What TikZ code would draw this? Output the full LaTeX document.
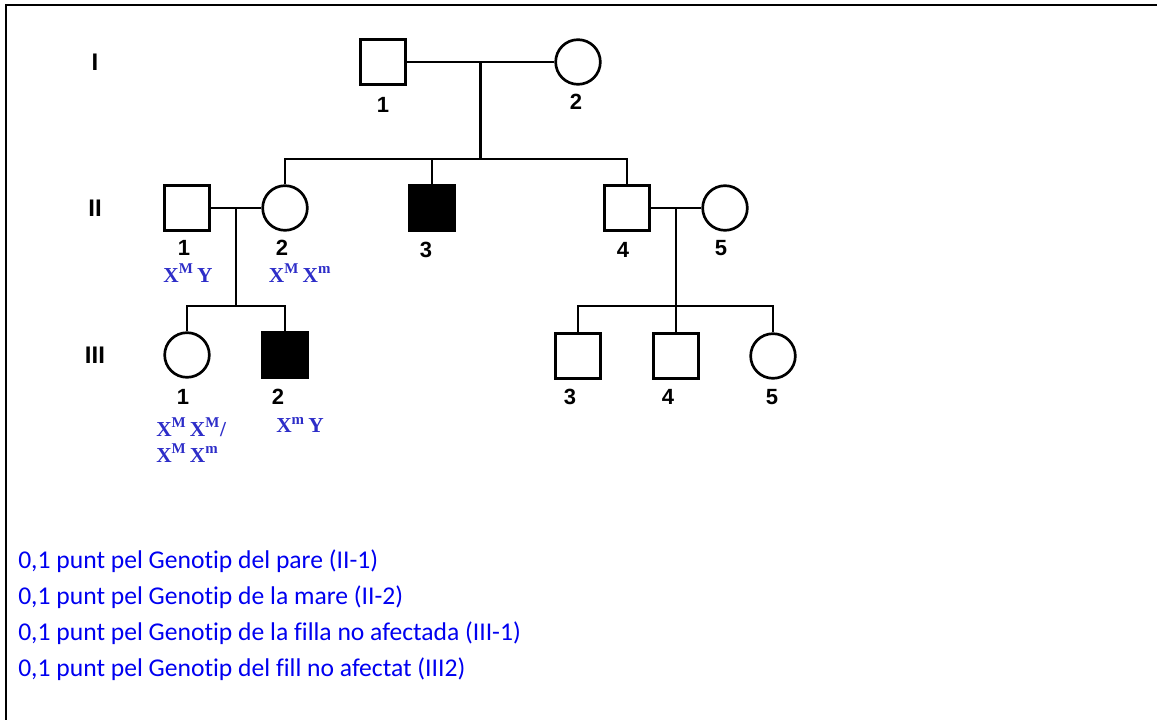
\documentclass[tikz,border=0pt]{standalone}
\usepackage{fontspec}
\usepackage{xcolor}
\usepackage{tikz}
\usetikzlibrary{positioning, calc}
\newfontfamily\calibfont[Ligatures={NoCommon}]{Carlito}
\newfontfamily\arialfont{Liberation Sans}
\newfontfamily\timesfont{Liberation Serif}
\definecolor{genoblue}{RGB}{45,45,200}
\definecolor{textblue}{RGB}{0,0,240}
\tikzset{
  male/.style={draw, rectangle, line width=2pt, minimum size=33.5pt, inner sep=0pt},
  female/.style={draw, circle, line width=2pt, minimum size=33.5pt, inner sep=0pt},
  affected/.style={male, fill=black},
  link/.style={line width=2pt},
  num/.style={inner sep=0pt, font=\arialfont\bfseries\fontsize{16.5}{18}\selectfont},
  gen/.style={inner sep=0pt, font=\arialfont\bfseries\fontsize{18}{20}\selectfont},
  geno/.style={inner sep=0pt, text=genoblue, font=\timesfont\bfseries\fontsize{16}{19.5}\selectfont},
  note/.style={inner sep=0pt, anchor=base west, text=textblue, font=\calibfont\fontsize{19.2}{24}\selectfont}
}
\begin{document}
\begin{tikzpicture}[x=0.75pt, y=-0.75pt]
    \useasboundingbox (0,0) rectangle (1157,720);
    % marc
    \draw[line width=2pt] (1160,5) -| (6,723);

    % generacions
    \node[gen] (gI) at (95,62) {I};
    \node[gen] (gII) at (95,208) {II};
    \node[gen] (gIII) at (95,355) {III};

    % primera generacio
    \node[male] (I1) at (383,62) {};
    \node[female] (I2) at (578,62) {};
    \draw[link] (I1.east) -- (I2.west);
    \coordinate (m1) at ($(I1.east)!0.5!(I2.west)$);
    \coordinate (s1) at ($(m1)+(0,97)$);
    \node[num] at (383,105) {1};
    \node[num] at (576,102) {2};

    % segona generacio
    \node[male] (II1) at (187,208) {};
    \node[female] (II2) at (285,208) {};
    \node[affected] (II3) at (432,208) {};
    \node[male] (II4) at (627,208) {};
    \node[female] (II5) at (725,208) {};
    \draw[link] (m1) -- (s1);
    \draw[link] (II2.north) |- (s1) -| (II4.north);
    \draw[link] (II3.north) -- (II3.north |- s1);
    \draw[link] (II1.east) -- (II2.west);
    \draw[link] (II4.east) -- (II5.west);
    \coordinate (m2) at ($(II1.east)!0.5!(II2.west)$);
    \coordinate (s2) at ($(m2)+(0,98)$);
    \coordinate (m3) at ($(II4.east)!0.5!(II5.west)$);
    \coordinate (s3) at ($(m3)+(0,98)$);
    \node[num] at (184,248) {1};
    \node[num] at (282,248) {2};
    \node[num] at (426,250) {3};
    \node[num] at (623,250) {4};
    \node[num] at (721,248) {5};
    \node[geno] (gII1) at (188,273) {X\textsuperscript{M}\,Y};
    \node[geno] (gII2) at (300,273) {X\textsuperscript{M}\,X\textsuperscript{m}};

    % tercera generacio
    \node[female] (III1) at (187,355) {};
    \node[affected] (III2) at (285,355) {};
    \node[male] (III3) at (578,356) {};
    \node[male] (III4) at (676,356) {};
    \node[female] (III5) at (773,356) {};
    \draw[link] (m2) -- (s2);
    \draw[link] (III1.north) |- (s2) -| (III2.north);
    \draw[link] (m3) -- (s3);
    \draw[link] (III3.north) |- (s3) -| (III5.north);
    \draw[link] (III4.north) -- (III4.north |- s3);
    \node[num] at (183,397) {1};
    \node[num] at (278,397) {2};
    \node[num] at (570,397) {3};
    \node[num] at (668,397) {4};
    \node[num] at (772,397) {5};
    \node[geno, anchor=west, align=left] (gIII1) at (156,440) {X\textsuperscript{M}\,X\textsuperscript{M}/\\X\textsuperscript{M}\,X\textsuperscript{m}};
    \node[geno] (gIII2) at (300,425) {X\textsuperscript{m}\,Y};

    % puntuacio
    \node[note] (t1) at (18,568) {0,1 punt pel Genotip del pare (II-1)};
    \node[note] (t2) at (18,604) {0,1 punt pel Genotip de la mare (II-2)};
    \node[note] (t3) at (18,640) {0,1 punt pel Genotip de la filla no afectada (III-1)};
    \node[note] (t4) at (18,676) {0,1 punt pel Genotip del fill no afectat (III2)};
\end{tikzpicture}
\end{document}
